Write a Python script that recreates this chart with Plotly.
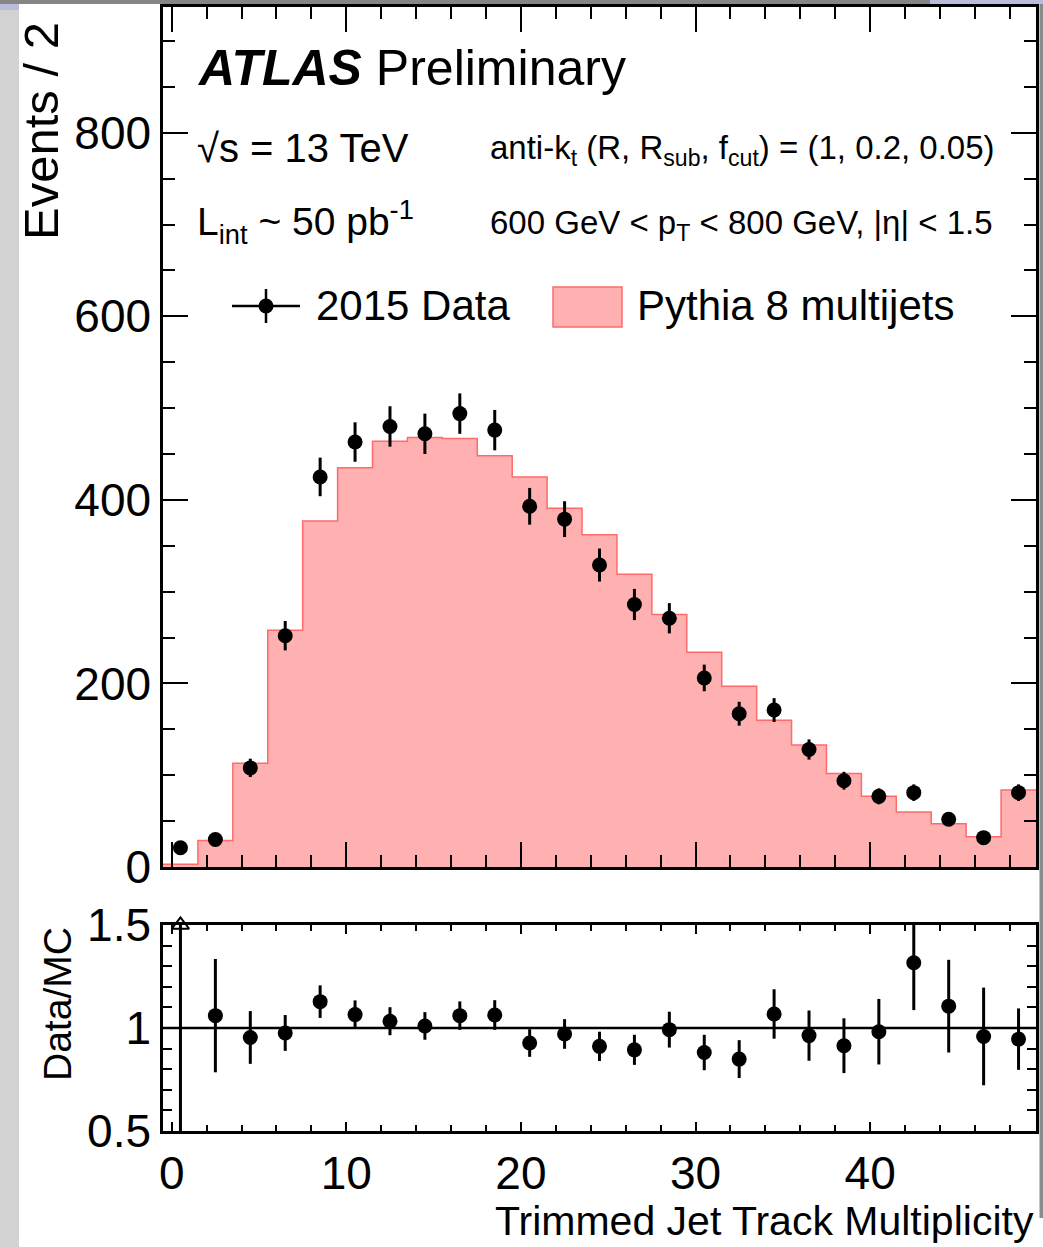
import plotly.graph_objects as go

W, H = 1043, 1247

# ---------------- data ----------------
bin_edges = [-0.5 + 2 * i for i in range(26)]
bin_centers = [0.5 + 2 * i for i in range(25)]

mc_values = [3, 29, 113, 258, 377, 435, 464, 468, 467, 448, 425, 391, 362, 319,
             275, 234, 197, 160, 133, 102, 77, 60, 47, 33, 84]

data_values = [21, 30, 108, 252, 425, 463, 480, 472, 494, 476, 393, 379, 329, 286,
               271, 206, 167, 171, 128, 94, 77, 81, 52, 32, 81]
data_errors = [4.5, 5.5, 10, 16, 21, 21.5, 22, 22, 22, 22, 20, 19.5, 18, 17,
               16.5, 14.5, 13, 13, 11, 9.7, 8.7, 9, 7.2, 5.7, 9]

ratio_values = [6.7, 1.060, 0.954, 0.976, 1.128, 1.065, 1.033, 1.010, 1.060, 1.063,
                0.927, 0.971, 0.911, 0.894, 0.992, 0.881, 0.849, 1.068, 0.963, 0.914,
                0.982, 1.317, 1.106, 0.959, 0.946]
ratio_errors = [6.5, 0.275, 0.128, 0.087, 0.079, 0.069, 0.068, 0.067, 0.069, 0.072,
                0.067, 0.072, 0.071, 0.073, 0.087, 0.086, 0.092, 0.12, 0.122, 0.133,
                0.159, 0.23, 0.225, 0.237, 0.149]

x_range = [-0.5, 49.5]
y_range_main = [0, 937]
y_range_ratio = [0.5, 1.5]

FONT = "Liberation Sans, Arial, Helvetica, sans-serif"
PINK = "#ffb0b0"
PINK_LINE = "#ff6b6b"


def px(x):
    return x / W


def py(y):
    return 1 - y / H


fig = go.Figure()

# MC histogram as filled step
step_x = bin_edges[:-1] + [bin_edges[-1]]
step_y = mc_values + [mc_values[-1]]
fig.add_trace(go.Scatter(
    x=step_x, y=step_y, mode="lines", line=dict(shape="hv", color=PINK_LINE, width=1.5),
    fill="tozeroy", fillcolor=PINK, xaxis="x", yaxis="y", showlegend=False,
    hoverinfo="skip"))

# Data points
fig.add_trace(go.Scatter(
    x=bin_centers, y=data_values, mode="markers",
    marker=dict(color="black", size=15),
    error_y=dict(type="data", array=data_errors, color="black", thickness=3, width=0),
    xaxis="x", yaxis="y", showlegend=False))

# Ratio points
fig.add_trace(go.Scatter(
    x=bin_centers, y=ratio_values, mode="markers",
    marker=dict(color="black", size=15),
    error_y=dict(type="data", array=ratio_errors, color="black", thickness=3, width=0),
    xaxis="x2", yaxis="y2", showlegend=False))

# Out-of-range indicators in the ratio panel
over_x = [c for c, r in zip(bin_centers, ratio_values) if r > y_range_ratio[1]]
over_y = [y_range_ratio[1] for _ in over_x]
fig.add_trace(go.Scatter(
    x=over_x, y=over_y, mode="markers",
    marker=dict(symbol="triangle-up-open", size=15, color="black", line=dict(width=2)),
    cliponaxis=False, xaxis="x2", yaxis="y2", showlegend=False))

xdom = [px(163), px(1036)]
main_dom = [py(867), py(7)]
ratio_dom = [py(1131), py(925)]

axis_common = dict(showline=True, linecolor="black", linewidth=2.5, mirror="allticks",
                   ticks="inside", tickcolor="black", tickwidth=2, showgrid=False,
                   zeroline=False, automargin=False,
                   tickfont=dict(family=FONT, size=46, color="black"))

fig.update_layout(
    width=W, height=H, margin=dict(l=0, r=0, t=0, b=0, pad=0, autoexpand=False),
    paper_bgcolor="white", plot_bgcolor="white", showlegend=False,
    font=dict(family=FONT, color="black"),
    xaxis=dict(domain=xdom, range=x_range, anchor="y", showticklabels=False,
               dtick=10, tick0=0, ticklen=25,
               minor=dict(dtick=2, tick0=0, ticklen=12, ticks="inside", tickcolor="black", tickwidth=2),
               **axis_common),
    yaxis=dict(domain=main_dom, range=y_range_main, anchor="x",
               dtick=200, tick0=0, ticklen=25, ticklabelstandoff=0,
               minor=dict(dtick=50, tick0=0, ticklen=12, ticks="inside", tickcolor="black", tickwidth=2),
               **axis_common),
    xaxis2=dict(domain=xdom, range=x_range, anchor="y2",
                dtick=10, tick0=0, ticklen=9,
                minor=dict(dtick=2, tick0=0, ticklen=6, ticks="inside", tickcolor="black", tickwidth=2),
                **axis_common),
    yaxis2=dict(domain=ratio_dom, range=y_range_ratio, anchor="x2",
                dtick=0.5, tick0=0.5, ticklen=18, ticklabelstandoff=0,
                minor=dict(dtick=0.1, tick0=0.5, ticklen=9, ticks="inside", tickcolor="black", tickwidth=2),
                **axis_common),
)

shapes = []
# Unity line in the ratio panel
shapes.append(dict(type="line", xref="x2 domain", yref="y2", x0=0, x1=1, y0=1, y1=1,
                   line=dict(color="black", width=2.5)))

# Slide-background decorations around the picture
shapes.append(dict(type="rect", xref="paper", yref="paper", x0=0, x1=px(19), y0=0, y1=1,
                   fillcolor="#d2d2d2", line=dict(width=0), layer="below"))
shapes.append(dict(type="rect", xref="paper", yref="paper", x0=0, x1=px(19), y0=py(10), y1=py(4),
                   fillcolor="#b9bdd9", line=dict(width=0), layer="below"))
shapes.append(dict(type="rect", xref="paper", yref="paper", x0=0, x1=px(930), y0=py(4), y1=1,
                   fillcolor="#858585", line=dict(width=0), layer="below"))
shapes.append(dict(type="rect", xref="paper", yref="paper", x0=px(930), x1=1, y0=py(4), y1=1,
                   fillcolor="#b9bdd9", line=dict(width=0), layer="below"))
shapes.append(dict(type="rect", xref="paper", yref="paper", x0=px(1039.5), x1=1, y0=py(1218), y1=py(4),
                   fillcolor="#8a8a8a", line=dict(width=0), layer="below"))

# Legend glyphs
shapes.append(dict(type="line", xref="paper", yref="paper", x0=px(232), x1=px(300), y0=py(306), y1=py(306),
                   line=dict(color="black", width=2.5)))
shapes.append(dict(type="line", xref="paper", yref="paper", x0=px(266), x1=px(266), y0=py(289), y1=py(323),
                   line=dict(color="black", width=2.5)))
shapes.append(dict(type="circle", xref="paper", yref="paper", x0=px(258.5), x1=px(273.5), y0=py(313.5), y1=py(298.5),
                   fillcolor="black", line=dict(color="black", width=0)))
shapes.append(dict(type="rect", xref="paper", yref="paper", x0=px(553), x1=px(622), y0=py(327), y1=py(287),
                   fillcolor=PINK, line=dict(color=PINK_LINE, width=1.5)))
fig.update_layout(shapes=shapes)

annotations = []


def text(x, y, s, size, xanchor="left", yanchor="middle", angle=0):
    annotations.append(dict(xref="paper", yref="paper", x=px(x), y=py(y), text=s, showarrow=False,
                            xanchor=xanchor, yanchor=yanchor, textangle=angle,
                            font=dict(family=FONT, size=size, color="black")))


text(195, 68, "<b><i>ATLAS</i></b> Preliminary", 50)
text(195, 148, "√s = 13 TeV", 40)
text(195, 222, "L<sub>int</sub> ~ 50 pb<sup>-1</sup>", 39)
text(488, 150, "anti-k<sub>t</sub> (R, R<sub>sub</sub>, f<sub>cut</sub>) = (1, 0.2, 0.05)", 33)
text(488, 225, "600 GeV &lt; p<sub>T</sub> &lt; 800 GeV, |η| &lt; 1.5", 33)
text(314, 305, "2015 Data", 42)
text(635, 305, "Pythia 8 multijets", 42)
text(41, 20, "Events / 2", 49, xanchor="center", yanchor="top", angle=-90)
text(57, 925, "Data/MC", 39, xanchor="center", yanchor="top", angle=-90)
text(1036, 1221, "Trimmed Jet Track Multiplicity", 41, xanchor="right", yanchor="middle")
fig.update_layout(annotations=annotations)

fig.write_html("out.html")
